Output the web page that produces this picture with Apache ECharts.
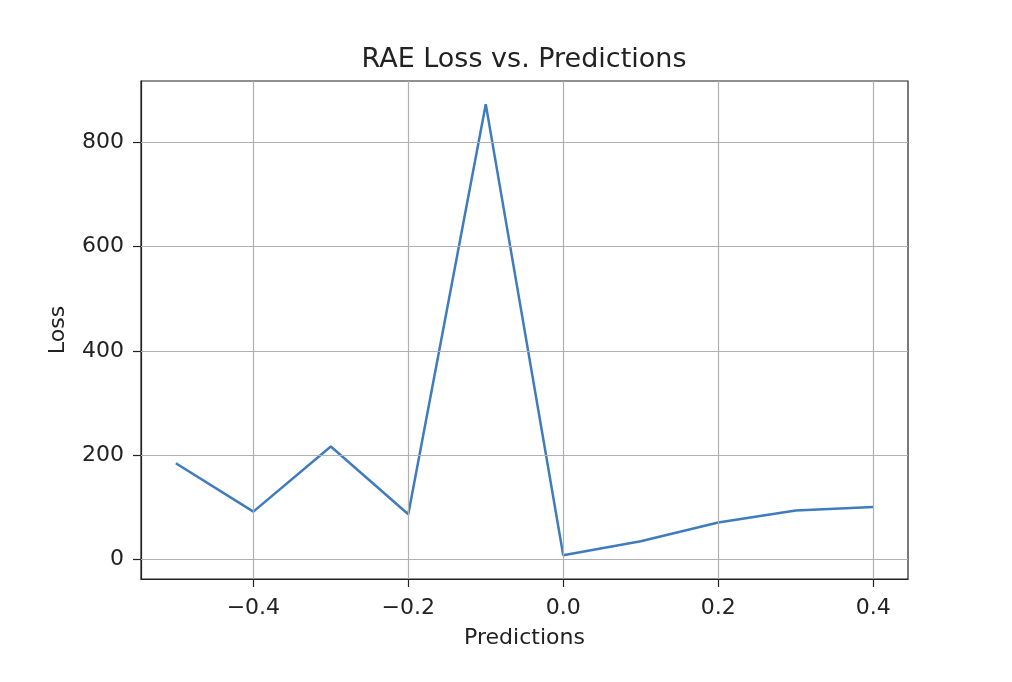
<!DOCTYPE html>
<html>
<head>
<meta charset="utf-8">
<script src="https://cdn.jsdelivr.net/npm/echarts@6/dist/echarts.min.js"></script>
<style>html,body{margin:0;padding:0;background:#fff}#c{width:1012px;height:682px}</style>
</head>
<body>
<div id="c"></div>
<script>
const predictions = [-0.5, -0.4, -0.3, -0.2, -0.1, 0.0, 0.1, 0.2, 0.3, 0.4];
const lossValues = [184, 91, 216, 86, 874, 7, 34, 70, 93, 100];
const xTicks = [-0.4, -0.2, 0.0, 0.2, 0.4];
const yTicks = [0, 200, 400, 600, 800];

const fmtX = v => (v < -1e-9 ? '\u2212' : '') + Math.abs(v).toFixed(1);
const font = 'DejaVu Sans';
const chart = echarts.init(document.getElementById('c'), null, {renderer: 'canvas'});
const gridColor = '#b0b0b0';
chart.setOption({
  animation: false,
  backgroundColor: '#fff',
  title: {
    text: 'RAE Loss vs. Predictions',
    left: 519, top: 41, textAlign: 'center',
    textStyle: {fontFamily: font, fontSize: 27, fontWeight: 'normal', color: '#222'}
  },
  grid: {left: 141, right: 104, top: 81, bottom: 103, show: true, borderColor: '#222', borderWidth: 1.2, backgroundColor: 'transparent'},
  xAxis: {
    type: 'value', min: -0.545, max: 0.445,
    name: 'Predictions', nameLocation: 'middle', nameGap: 48,
    nameTextStyle: {fontFamily: font, fontSize: 22, color: '#222'},
    axisLine: {show: true, onZero: false, lineStyle: {color: '#222', width: 1.2}},
    axisTick: {show: true, customValues: xTicks, length: 8, lineStyle: {color: '#222', width: 1.2}},
    axisLabel: {customValues: xTicks, formatter: fmtX, fontFamily: font, fontSize: 22, color: '#222', margin: 18},
    splitLine: {show: false}
  },
  yAxis: {
    type: 'value', min: -38.5, max: 918.5,
    name: 'Loss', nameLocation: 'middle', nameGap: 72,
    nameTextStyle: {fontFamily: font, fontSize: 22, color: '#222'},
    axisLine: {show: true, onZero: false, lineStyle: {color: '#222', width: 1.2}},
    axisTick: {show: true, customValues: yTicks, length: 8, lineStyle: {color: '#222', width: 1.2}},
    axisLabel: {customValues: yTicks, fontFamily: font, fontSize: 22, color: '#222', margin: 17},
    splitLine: {show: false}
  },
  series: [
    {
      type: 'line', data: [], z: 1, silent: true,
      markLine: {
        silent: true, symbol: 'none', animation: false,
        label: {show: false},
        lineStyle: {color: gridColor, width: 1.2, type: 'solid'},
        data: xTicks.map(v => ({xAxis: v})).concat(yTicks.map(v => ({yAxis: v})))
      }
    },
    {
      type: 'line', z: 3,
      data: predictions.map((p, i) => [p, lossValues[i]]),
      showSymbol: false, symbol: 'none',
      lineStyle: {color: '#3f7bbd', width: 2.5},
      itemStyle: {color: '#3f7bbd'}
    }
  ]
});
</script>
</body>
</html>
